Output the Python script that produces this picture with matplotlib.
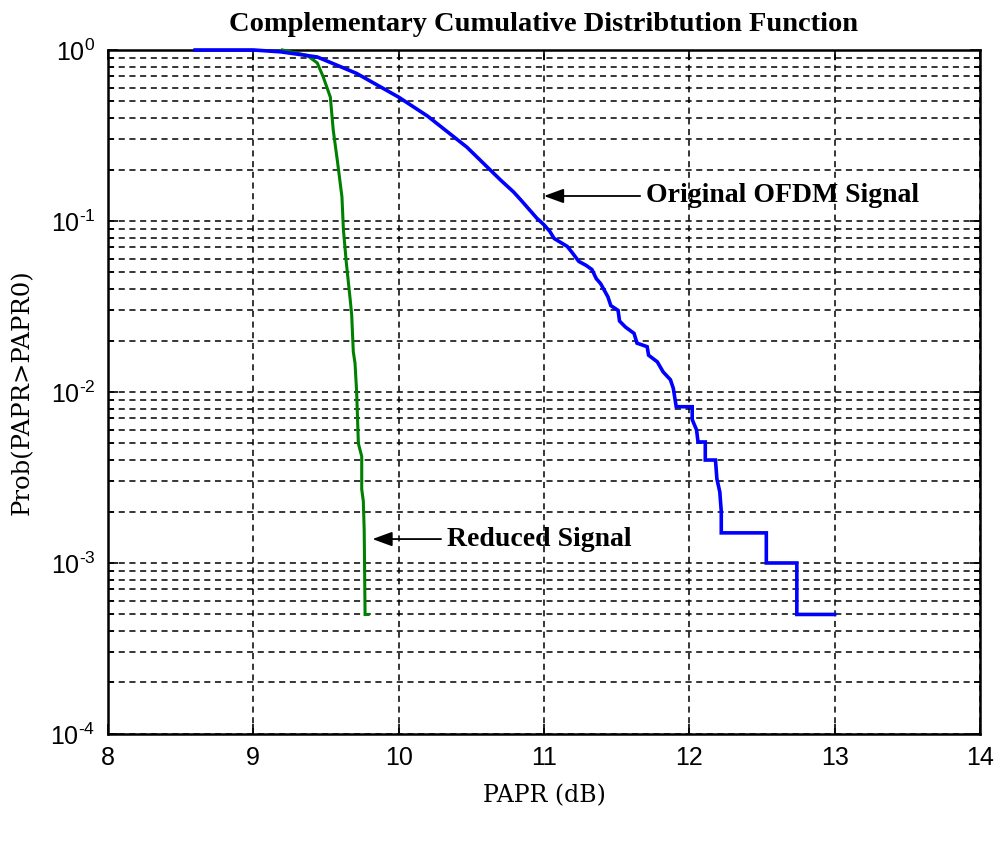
import matplotlib
matplotlib.use("Agg")
import matplotlib.pyplot as plt

# CCDF of the original OFDM signal
papr_orig = [8.60, 9.00, 9.19, 9.44, 9.71, 10.00, 10.20, 10.47, 10.70, 10.79, 10.84,
             10.95, 11.00, 11.04, 11.07, 11.16, 11.19, 11.24, 11.29, 11.33, 11.36,
             11.39, 11.44, 11.46, 11.51, 11.52, 11.56, 11.62, 11.64, 11.71, 11.72,
             11.78, 11.82, 11.87, 11.89, 11.91, 12.02, 12.02, 12.05, 12.06, 12.11,
             12.11, 12.18, 12.19, 12.21, 12.22, 12.22, 12.53, 12.53, 12.74, 12.74,
             13.00]
ccdf_orig = [1.0, 1.0, 0.975, 0.91, 0.73, 0.53, 0.41, 0.27, 0.174, 0.148, 0.133,
             0.104, 0.095, 0.087, 0.079, 0.071, 0.066, 0.058, 0.055, 0.052, 0.046,
             0.043, 0.036, 0.032, 0.030, 0.026, 0.024, 0.022, 0.0193, 0.0184, 0.0164,
             0.0150, 0.0131, 0.0118, 0.0105, 0.0082, 0.0082, 0.0069, 0.0060, 0.0051, 0.0051,
             0.0040, 0.0040, 0.0031, 0.0026, 0.0020, 0.0015, 0.0015, 0.001, 0.001, 0.0005,
             0.0005]

# CCDF of the reduced signal
papr_red = [9.20, 9.37, 9.44, 9.48, 9.53, 9.55, 9.58, 9.61, 9.62, 9.64, 9.667,
            9.677, 9.688, 9.700, 9.711, 9.723, 9.746, 9.746, 9.757, 9.763, 9.769, 9.79]
ccdf_red = [1.0, 0.93, 0.84, 0.70, 0.53, 0.34, 0.22, 0.138, 0.089, 0.057, 0.0345,
            0.0282, 0.0172, 0.0147, 0.0100, 0.0050, 0.0042, 0.0027, 0.0023, 0.00156,
            0.0005, 0.0005]

x_ticks = [8, 9, 10, 11, 12, 13, 14]
y_ticks = [1e-4, 1e-3, 1e-2, 1e-1, 1]
y_labels = ['$10^{\u20104}$', '$10^{\u20103}$', '$10^{\u20102}$', '$10^{\u20101}$', '$10^{0}$']

plt.rcParams['mathtext.fontset'] = 'custom'
plt.rcParams['mathtext.rm'] = 'Liberation Sans'
plt.rcParams['mathtext.it'] = 'Liberation Sans'

fig = plt.figure(figsize=(9.97, 8.5), dpi=100)
ax = fig.add_axes([0.1083, 0.1365, 0.8746, 0.8047])

# blue on top of green where they overlap near 1
ax.plot(papr_orig, ccdf_orig, color='#0000ff', lw=2.6, solid_joinstyle='miter',
        zorder=3.1, clip_on=False)
ax.plot(papr_red, ccdf_red, color='#008000', lw=2.2, solid_joinstyle='miter',
        zorder=3, clip_on=False)

ax.set_yscale('log')
ax.set_xlim(8, 14)
ax.set_ylim(1e-4, 1)
ax.set_xticks(x_ticks)
ax.set_xticklabels([str(t) for t in x_ticks], family='Liberation Sans', fontsize=18)
ax.set_yticks(y_ticks)
ax.set_yticklabels(y_labels, fontsize=18)

grid_style = dict(color='black', linestyle=(0, (4, 3)), linewidth=1.1)
ax.grid(True, which='major', axis='both', **grid_style)
ax.grid(True, which='minor', axis='y', **grid_style)

ax.tick_params(which='both', direction='in', top=True, right=True, width=1.2)
ax.tick_params(which='major', length=7, pad=9)
ax.tick_params(which='minor', length=4)
for s in ax.spines.values():
    s.set_linewidth(1.8)

ax.set_title('Complementary Cumulative Distribtution Function',
             family='Liberation Serif', fontweight='bold', fontsize=20.5, pad=14)
ax.set_xlabel('PAPR (dB)', family='DejaVu Serif', fontsize=17, labelpad=10)
ax.set_ylabel('Prob(PAPR>PAPR0)', family='DejaVu Serif', fontsize=17.5, labelpad=12)

arrow = dict(arrowstyle='-|>,head_length=0.6,head_width=0.22', color='black',
             lw=1.3, shrinkA=2, shrinkB=0, mutation_scale=20)
ax.annotate('Original OFDM Signal', xy=(11.0, 0.14), xytext=(11.70, 0.14),
            ha='left', va='center', family='Liberation Serif', fontweight='bold',
            fontsize=20, arrowprops=arrow)
ax.annotate('Reduced Signal', xy=(9.82, 0.00138), xytext=(10.33, 0.00138),
            ha='left', va='center', family='Liberation Serif', fontweight='bold',
            fontsize=20, arrowprops=arrow)

fig.savefig('out.png', dpi=100)
